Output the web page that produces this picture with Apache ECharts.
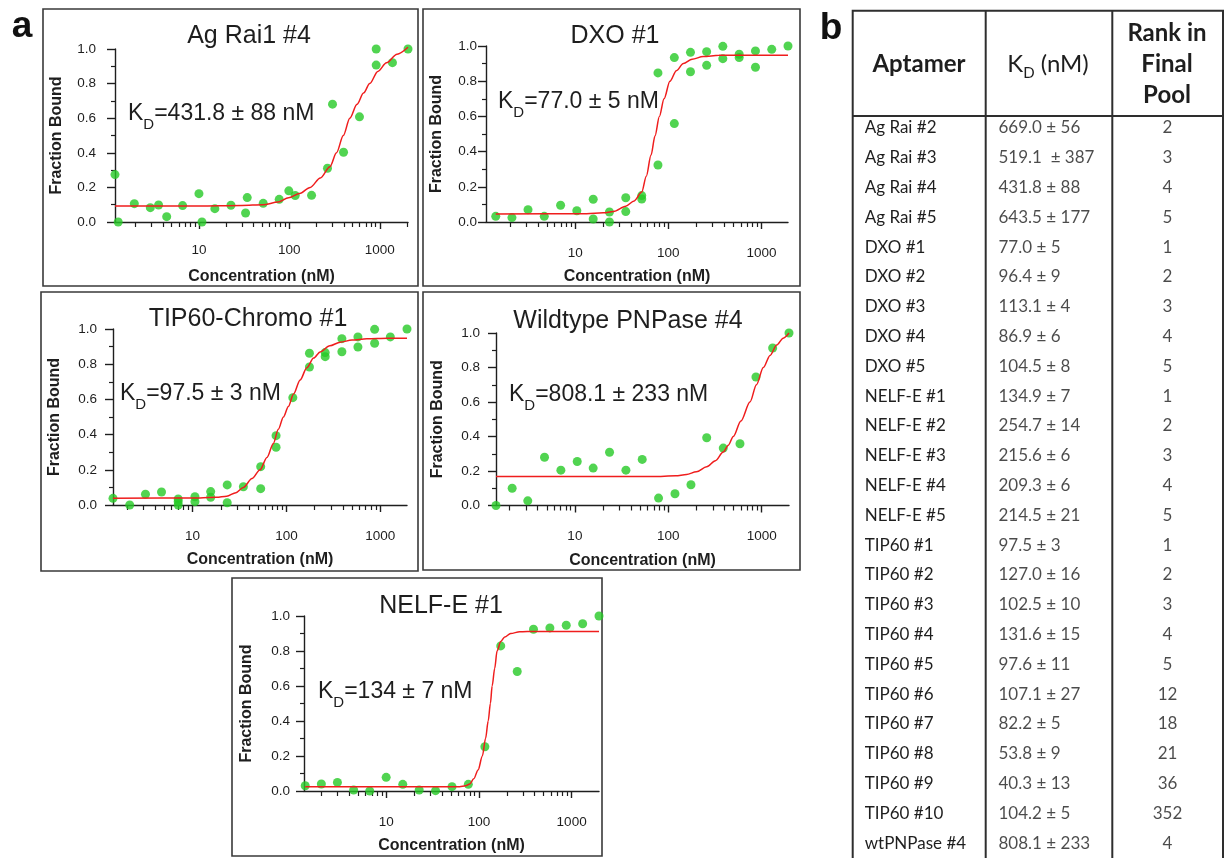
<!DOCTYPE html>
<html>
<head>
<meta charset="utf-8">
<script src="https://cdn.jsdelivr.net/npm/echarts@6.0.0/dist/echarts.min.js"></script>
<style>
  html, body { margin: 0; padding: 0; background: #fff; }
  #chart { width: 1226px; height: 858px; }
</style>
</head>
<body>
<div id="chart"></div>
<script>
// ---- axis ticks ----
const majorTicks = [10, 100, 1000];
const minorTicks = [2, 3, 4, 5, 6, 7, 8, 9, 20, 30, 40, 50, 60, 70, 80, 90,
  200, 300, 400, 500, 600, 700, 800, 900, 2000];

// ---- Ag Rai1 #4 ----
const agConc = [1.18, 1.28, 1.93, 2.9, 3.58, 4.4, 6.6, 10, 10.8, 15, 22.6, 32.8, 34.2,
  51.4, 77.2, 98.6, 116, 176, 264, 300, 397, 596, 912, 912, 1380, 2050];
const agBound = [0.274, 0, 0.106, 0.083, 0.098, 0.031, 0.095, 0.164, 0, 0.077, 0.097, 0.052, 0.141,
  0.108, 0.131, 0.18, 0.153, 0.154, 0.311, 0.681, 0.403, 0.608, 0.907, 1.0, 0.921, 1.0];
const agFitConc = [1.18, 10, 30, 51, 75, 98, 130, 170, 220, 281, 332, 395, 466, 560, 660, 774, 950, 1186, 1550, 2050];
const agFitBound = [0.092, 0.093, 0.096, 0.1, 0.115, 0.14, 0.165, 0.2, 0.255, 0.32, 0.4, 0.5, 0.6, 0.68, 0.745, 0.8, 0.87, 0.92, 0.97, 1.01];

// ---- DXO #1 ----
const dxoConc = [1.4, 2.09, 3.11, 4.65, 6.96, 10.4, 15.6, 15.6, 23.3, 23.3, 34.9, 34.9, 51.8, 51.8,
  77.4, 77.4, 116, 116, 173, 173, 258, 258, 385, 385, 577, 577, 863, 863, 1291, 1930];
const dxoBound = [0.032, 0.025, 0.07, 0.032, 0.095, 0.064, 0.129, 0.017, 0.057, 0, 0.138, 0.059, 0.15, 0.131,
  0.324, 0.847, 0.559, 0.934, 0.964, 0.854, 0.968, 0.89, 0.998, 0.928, 0.953, 0.934, 0.972, 0.879, 0.981, 1.0];
const dxoFitConc = [1.4, 13.3, 20, 25.8, 34.9, 43, 51.8, 58, 65.2, 72, 80.1, 90, 104, 122, 145, 180, 237, 350, 540, 1930];
const dxoFitBound = [0.045, 0.047, 0.052, 0.06, 0.09, 0.12, 0.17, 0.26, 0.38, 0.49, 0.6, 0.7, 0.8, 0.86, 0.9, 0.925, 0.94, 0.947, 0.948, 0.948];

// ---- TIP60-Chromo #1 ----
const tipConc = [1.42, 2.14, 3.15, 4.67, 7.03, 7.03, 7.03, 10.6, 10.6, 15.6, 15.6, 23.4, 23.4, 34.8,
  53.2, 53.2, 77.6, 77.6, 117, 176, 176, 259, 259, 390, 390, 578, 578, 871, 871, 1280, 1927];
const tipBound = [0.038, 0, 0.061, 0.074, 0.034, 0.019, 0, 0.047, 0.019, 0.076, 0.044, 0.114, 0.013, 0.104,
  0.218, 0.093, 0.394, 0.328, 0.61, 0.862, 0.784, 0.866, 0.843, 0.945, 0.871, 0.955, 0.898, 0.998, 0.919, 0.955, 1.0];
const tipFitConc = [1.42, 12, 18, 23.1, 29, 34.8, 43, 52.4, 62, 72.6, 82, 92.9, 105, 119, 140, 165, 195, 229, 290, 374, 500, 721, 1200, 1927];
const tipFitBound = [0.038, 0.04, 0.044, 0.05, 0.07, 0.1, 0.15, 0.2, 0.27, 0.35, 0.43, 0.5, 0.56, 0.63, 0.71, 0.78, 0.835, 0.87, 0.905, 0.925, 0.937, 0.945, 0.948, 0.948];

// ---- Wildtype PNPase #4 ----
const pnpConc = [1.43, 2.13, 3.13, 4.73, 7.08, 10.6, 15.7, 23.5, 35.2, 52.6, 78.7, 118, 175, 258,
  388, 586, 869, 1312, 1963];
const pnpBound = [0, 0.1, 0.027, 0.28, 0.205, 0.255, 0.217, 0.309, 0.205, 0.267, 0.043, 0.068, 0.12, 0.393,
  0.333, 0.358, 0.745, 0.913, 1.0];
const pnpFitConc = [1.43, 69, 120, 157, 200, 258, 320, 388, 440, 497, 600, 750, 880, 1042, 1230, 1449, 1700, 1963];
const pnpFitBound = [0.168, 0.168, 0.172, 0.18, 0.195, 0.225, 0.26, 0.31, 0.35, 0.4, 0.49, 0.6, 0.7, 0.8, 0.87, 0.93, 0.97, 1.0];

// ---- NELF-E #1 ----
const nelfConc = [1.34, 2.0, 2.98, 4.46, 6.65, 10, 15.1, 22.7, 34.1, 51.3, 76.9, 116, 172, 259,
  388, 583, 875, 1315, 1973];
const nelfBound = [0.03, 0.04, 0.049, 0.006, 0, 0.078, 0.038, 0.006, 0.002, 0.025, 0.038, 0.253, 0.829, 0.683,
  0.924, 0.932, 0.947, 0.956, 1.0];
const nelfFitConc = [1.34, 62, 72, 79.6, 88, 98, 109, 118, 126, 133, 139, 148, 157, 172, 190, 220, 276, 400, 1973];
const nelfFitBound = [0.025, 0.025, 0.03, 0.04, 0.07, 0.12, 0.2, 0.3, 0.4, 0.5, 0.6, 0.7, 0.8, 0.855, 0.88, 0.9, 0.91, 0.912, 0.912];

// ---- table b ----
const aptamers = ['Ag Rai #2', 'Ag Rai #3', 'Ag Rai #4', 'Ag Rai #5', 'DXO #1', 'DXO #2', 'DXO #3',
  'DXO #4', 'DXO #5', 'NELF-E #1', 'NELF-E #2', 'NELF-E #3', 'NELF-E #4', 'NELF-E #5',
  'TIP60 #1', 'TIP60 #2', 'TIP60 #3', 'TIP60 #4', 'TIP60 #5', 'TIP60 #6', 'TIP60 #7',
  'TIP60 #8', 'TIP60 #9', 'TIP60 #10', 'wtPNPase #4'];
const kdValues = ['669.0 ± 56', '519.1  ± 387', '431.8 ± 88', '643.5 ± 177', '77.0 ± 5', '96.4 ± 9',
  '113.1 ± 4', '86.9 ± 6', '104.5 ± 8', '134.9 ± 7', '254.7 ± 14', '215.6 ± 6', '209.3 ± 6',
  '214.5 ± 21', '97.5 ± 3', '127.0 ± 16', '102.5 ± 10', '131.6 ± 15', '97.6 ± 11', '107.1 ± 27',
  '82.2 ± 5', '53.8 ± 9', '40.3 ± 13', '104.2 ± 5', '808.1 ± 233'];
const ranks = [2, 3, 4, 5, 1, 2, 3, 4, 5, 1, 2, 3, 4, 5, 1, 2, 3, 4, 5, 12, 18, 21, 36, 352, 4];

const panels = [
  { title: 'Ag Rai1 #4', kd: '=431.8 ± 88 nM', xMin: 1.18, xMax: 2050,
    conc: agConc, bound: agBound, fitConc: agFitConc, fitBound: agFitBound },
  { title: 'DXO #1', kd: '=77.0 ± 5 nM', xMin: 1.1, xMax: 1930,
    conc: dxoConc, bound: dxoBound, fitConc: dxoFitConc, fitBound: dxoFitBound },
  { title: 'TIP60-Chromo #1', kd: '=97.5 ± 3 nM', xMin: 1.42, xMax: 1927,
    conc: tipConc, bound: tipBound, fitConc: tipFitConc, fitBound: tipFitBound },
  { title: 'Wildtype PNPase #4', kd: '=808.1 ± 233 nM', xMin: 1.43, xMax: 1963,
    conc: pnpConc, bound: pnpBound, fitConc: pnpFitConc, fitBound: pnpFitBound },
  { title: 'NELF-E #1', kd: '=134 ± 7 nM', xMin: 1.3, xMax: 1973,
    conc: nelfConc, bound: nelfBound, fitConc: nelfFitConc, fitBound: nelfFitBound }
];

// layout of each panel (pixels)
const layouts = [
  { box: [43, 9, 375, 277], grid: [115, 49, 293, 173], title: [249, 36], kd: [128, 114], yMargin: 19, yNameGap: 50, xMargin: 21 },
  { box: [423, 9, 377, 277], grid: [486, 46, 302, 176], title: [615, 36], kd: [498, 102], yMargin: 9, yNameGap: 41, xMargin: 24 },
  { box: [41, 292, 377, 279], grid: [113, 329, 294, 176], title: [248, 319], kd: [120, 394], yMargin: 16, yNameGap: 50, xMargin: 24 },
  { box: [423, 292, 377, 278], grid: [496, 333, 293, 172.5], title: [628, 321], kd: [509, 395], yMargin: 16, yNameGap: 50, xMargin: 24 },
  { box: [232, 578, 370, 278], grid: [304, 616, 295, 175], title: [441, 606], kd: [318, 692], yMargin: 14, yNameGap: 49, xMargin: 24 }
];

const FONT = '"Liberation Sans", Arial, sans-serif';
const TFONT = 'Lato, "Open Sans", sans-serif';
const INK = '#1e1e1e';
const GREEN = '#26c926';
const RED = '#ef1d1d';

const chart = echarts.init(document.getElementById('chart'));

const option = {
  animation: false,
  backgroundColor: '#fff',
  grid: [],
  xAxis: [],
  yAxis: [],
  series: [],
  graphic: { elements: [] }
};

panels.forEach((p, i) => {
  const L = layouts[i];
  option.grid.push({ left: L.grid[0], top: L.grid[1], width: L.grid[2], height: L.grid[3] });

  // main log axis: decades + name
  option.xAxis.push({
    type: 'log', logBase: 10, gridIndex: i, min: p.xMin, max: p.xMax, position: 'bottom',
    name: 'Concentration (nM)', nameLocation: 'middle', nameGap: 47,
    nameTextStyle: { fontFamily: FONT, fontWeight: 'bold', fontSize: 16, color: INK },
    axisLine: { show: true, onZero: false, lineStyle: { color: INK, width: 1.4 } },
    axisTick: { show: true, customValues: majorTicks, length: 7, lineStyle: { color: INK, width: 1.4 } },
    axisLabel: { customValues: majorTicks, margin: L.xMargin, fontFamily: FONT, fontSize: 13.5, color: INK,
      formatter: v => String(Math.round(v)) },
    splitLine: { show: false }
  });
  // second log axis only for the minor ticks
  option.xAxis.push({
    type: 'log', logBase: 10, gridIndex: i, min: p.xMin, max: p.xMax, position: 'bottom',
    axisLine: { show: false, onZero: false },
    axisTick: { show: true, customValues: minorTicks, length: 5, lineStyle: { color: INK, width: 1.2 } },
    axisLabel: { show: false },
    splitLine: { show: false }
  });

  option.yAxis.push({
    type: 'value', gridIndex: i, min: 0, max: 1, interval: 0.2,
    name: 'Fraction Bound', nameLocation: 'middle', nameGap: L.yNameGap,
    nameTextStyle: { fontFamily: FONT, fontWeight: 'bold', fontSize: 16, color: INK },
    axisLine: { show: true, lineStyle: { color: INK, width: 1.4 } },
    axisTick: { show: true, length: 8, lineStyle: { color: INK, width: 1.4 } },
    minorTick: { show: true, splitNumber: 2, length: 4, lineStyle: { color: INK, width: 1.2 } },
    axisLabel: { margin: L.yMargin, fontFamily: FONT, fontSize: 13.5, color: INK,
      formatter: v => v.toFixed(1) },
    splitLine: { show: false }
  });

  option.series.push({
    type: 'scatter', xAxisIndex: 2 * i, yAxisIndex: i, clip: false,
    symbolSize: 9, itemStyle: { color: GREEN },
    data: p.conc.map((c, k) => [c, p.bound[k]])
  });
  option.series.push({
    type: 'line', xAxisIndex: 2 * i, yAxisIndex: i, clip: false, z: 3,
    smooth: 0.3, smoothMonotone: 'x', symbol: 'none',
    lineStyle: { color: RED, width: 1.5 },
    data: p.fitConc.map((c, k) => [c, p.fitBound[k]])
  });

  // panel frame, title and Kd text
  option.graphic.elements.push({
    type: 'rect', shape: { x: L.box[0], y: L.box[1], width: L.box[2], height: L.box[3] },
    style: { fill: 'none', stroke: '#3a3a3a', lineWidth: 1.6 }, silent: true
  });
  option.graphic.elements.push({
    type: 'text', x: L.title[0], y: L.title[1], silent: true,
    style: { text: p.title, fontFamily: FONT, fontSize: 25, fill: INK, align: 'center', verticalAlign: 'middle' }
  });
  option.graphic.elements.push({
    type: 'text', x: L.kd[0], y: L.kd[1], silent: true,
    style: {
      text: '{k|K}{d|D}{r|' + p.kd + '}', fontFamily: FONT, fontSize: 23, fill: INK,
      align: 'left', verticalAlign: 'middle',
      rich: {
        k: { fontFamily: FONT, fontSize: 23, fill: INK },
        d: { fontFamily: FONT, fontSize: 15, fill: INK, padding: [22, 0, 0, 0] },
        r: { fontFamily: FONT, fontSize: 23, fill: INK }
      }
    }
  });
});

// ---- table ----
const T = { left: 852.7, top: 10.7, right: 1223, headBottom: 116, col1: 985.7, col2: 1112.3, rowTop: 113, rowH: 30 };
const tg = panels.length;
option.grid.push({ left: T.left, top: T.rowTop, width: T.right - T.left, height: T.rowH * aptamers.length });
option.xAxis.push({ type: 'value', gridIndex: tg, min: 0, max: T.right - T.left, show: false });
option.yAxis.push({
  type: 'category', gridIndex: tg, data: aptamers, inverse: true,
  axisLine: { show: false }, axisTick: { show: false }, splitLine: { show: false },
  axisLabel: { inside: true, margin: 12, interval: 0, align: 'left', fontFamily: TFONT, fontSize: 17, color: INK }
});
option.series.push({
  type: 'scatter', xAxisIndex: 2 * tg, yAxisIndex: tg, symbolSize: 1, silent: true,
  itemStyle: { color: 'rgba(0,0,0,0)' },
  data: kdValues.map((v, k) => [145.3, k]),
  label: { show: true, position: 'right', distance: 0, fontFamily: TFONT, fontSize: 17, color: INK,
    formatter: q => kdValues[q.dataIndex] }
});
option.series.push({
  type: 'scatter', xAxisIndex: 2 * tg, yAxisIndex: tg, symbolSize: 1, silent: true,
  itemStyle: { color: 'rgba(0,0,0,0)' },
  data: ranks.map((v, k) => [314.8, k]),
  label: { show: true, position: 'inside', fontFamily: TFONT, fontSize: 17, color: INK,
    formatter: q => String(ranks[q.dataIndex]) }
});

const lineStyle = { stroke: '#2e2e2e', lineWidth: 2 };
option.graphic.elements.push(
  { type: 'rect', silent: true, shape: { x: T.left, y: T.top, width: T.right - T.left, height: 900 }, style: Object.assign({ fill: 'none' }, lineStyle) },
  { type: 'line', silent: true, shape: { x1: T.left, y1: T.headBottom, x2: T.right, y2: T.headBottom }, style: lineStyle },
  { type: 'line', silent: true, shape: { x1: T.col1, y1: T.top, x2: T.col1, y2: 900 }, style: lineStyle },
  { type: 'line', silent: true, shape: { x1: T.col2, y1: T.top, x2: T.col2, y2: 900 }, style: lineStyle },
  { type: 'text', silent: true, x: 919, y: 64,
    style: { text: 'Aptamer', fontFamily: TFONT, fontWeight: 'bold', fontSize: 24, fill: INK, align: 'center', verticalAlign: 'middle' } },
  { type: 'text', silent: true, x: 1048, y: 64,
    style: { text: '{k|K}{d|D}{r| (nM)}', fontFamily: TFONT, fontSize: 24, fill: INK, align: 'center', verticalAlign: 'middle',
      rich: {
        k: { fontFamily: TFONT, fontSize: 24, fill: INK },
        d: { fontFamily: TFONT, fontSize: 15, fill: INK, padding: [18, 0, 0, 0] },
        r: { fontFamily: TFONT, fontSize: 24, fill: INK }
      } } },
  { type: 'text', silent: true, x: 1167, y: 64,
    style: { text: 'Rank in\nFinal\nPool', fontFamily: TFONT, fontWeight: 'bold', fontSize: 24, lineHeight: 31,
      fill: INK, align: 'center', verticalAlign: 'middle' } },
  // panel letters
  { type: 'text', silent: true, x: 22, y: 27,
    style: { text: 'a', fontFamily: FONT, fontWeight: 'bold', fontSize: 37, fill: '#111', align: 'center', verticalAlign: 'middle' } },
  { type: 'text', silent: true, x: 831, y: 29,
    style: { text: 'b', fontFamily: FONT, fontWeight: 'bold', fontSize: 37, fill: '#111', align: 'center', verticalAlign: 'middle' } }
);

chart.setOption(option);
</script>
</body>
</html>
